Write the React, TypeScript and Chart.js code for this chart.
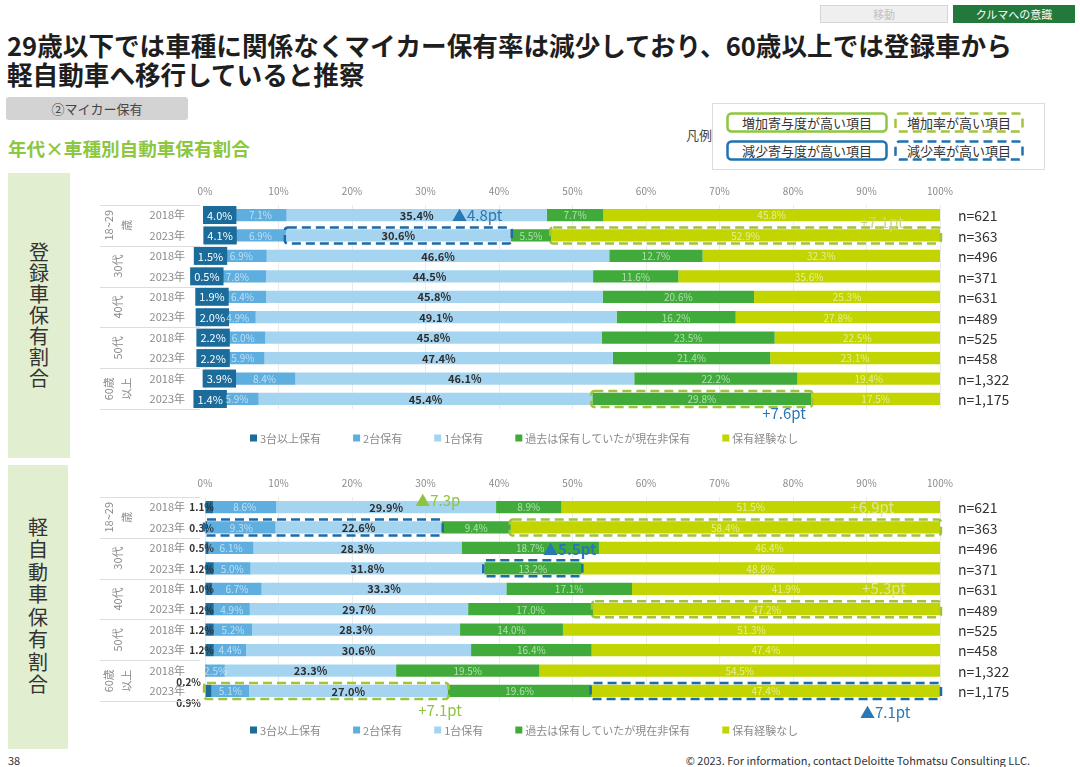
import React, { useEffect, useRef } from "react";
import { Chart, registerables } from "chart.js";

Chart.register(...registerables);

const FONT = '"Noto Sans CJK JP", "Noto Sans", sans-serif';

// ---- categories / labels ----
const ageGroupLines: string[][] = [["18~29", "歳"], ["30代"], ["40代"], ["50代"], ["60歳", "以上"]];
const rowLabels = ["2018年", "2023年", "2018年", "2023年", "2018年", "2023年", "2018年", "2023年", "2018年", "2023年"];
const sampleSizes = ["n=621", "n=363", "n=496", "n=371", "n=631", "n=489", "n=525", "n=458", "n=1,322", "n=1,175"];
const seriesNames = ["3台以上保有", "2台保有", "1台保有", "過去は保有していたが現在非保有", "保有経験なし"];
const seriesColors = ["#1b6b9b", "#5eaee0", "#a5d4f0", "#40ab3a", "#c3d500"];

// ---- 登録車 (registered cars) ----
const regThreePlus = [4.0, 4.1, 1.5, 0.5, 1.9, 2.0, 2.2, 2.2, 3.9, 1.4];
const regTwo = [7.1, 6.9, 6.9, 7.8, 6.4, 4.9, 6.0, 5.9, 8.4, 5.9];
const regOne = [35.4, 30.6, 46.6, 44.5, 45.8, 49.1, 45.8, 47.4, 46.1, 45.4];
const regPast = [7.7, 5.5, 12.7, 11.6, 20.6, 16.2, 23.5, 21.4, 22.2, 29.8];
const regNever = [45.8, 52.9, 32.3, 35.6, 25.3, 27.8, 22.5, 23.1, 19.4, 17.5];

// ---- 軽自動車 (kei cars) ----
const keiThreePlus = [1.1, 0.3, 0.5, 1.2, 1.0, 1.2, 1.2, 1.2, 0.2, 0.9];
const keiTwo = [8.6, 9.3, 6.1, 5.0, 6.7, 4.9, 5.2, 4.4, 2.5, 5.1];
const keiOne = [29.9, 22.6, 28.3, 31.8, 33.3, 29.7, 28.3, 30.6, 23.3, 27.0];
const keiPast = [8.9, 9.4, 18.7, 13.2, 17.1, 17.0, 14.0, 16.4, 19.5, 19.6];
const keiNever = [51.5, 58.4, 46.4, 48.8, 41.9, 47.2, 51.3, 47.4, 54.5, 47.4];

const BLUE = "#1c6aa6";
const LIME = "#a2c23a";
const LIME_TEXT = "#dde5a0";
const GREEN_TEXT = "#8cc43f";

type Highlight = { row: number; from: number; to: number; color: string };
type Note = { text: string; row: number; at: number; dy: number; color: string; bold?: boolean };

const regHighlights: Highlight[] = [
  { row: 1, from: 2, to: 2, color: BLUE },
  { row: 1, from: 4, to: 4, color: LIME },
  { row: 9, from: 3, to: 3, color: LIME },
];
const regNotes: Note[] = [
  { text: "▲4.8pt", row: 0, at: 33.6, dy: 0, color: "#2a78b3" },
  { text: "+7.1pt", row: 0, at: 89.1, dy: 7, color: "#cbd77e" },
  { text: "+7.6pt", row: 9, at: 75.8, dy: 14, color: "#2a78b3" },
];
const keiHighlights: Highlight[] = [
  { row: 1, from: 0, to: 2, color: BLUE },
  { row: 1, from: 4, to: 4, color: LIME },
  { row: 3, from: 3, to: 3, color: BLUE },
  { row: 5, from: 4, to: 4, color: LIME },
  { row: 9, from: 0, to: 2, color: LIME },
  { row: 9, from: 4, to: 4, color: BLUE },
];
const keiNotes: Note[] = [
  { text: "▲7.3p", row: 0, at: 28.6, dy: -7, color: GREEN_TEXT },
  { text: "+6.9pt", row: 0, at: 87.8, dy: 0, color: LIME_TEXT },
  { text: "▲5.5pt", row: 2, at: 46.0, dy: 1, color: "#2a78b3", bold: true },
  { text: "+5.3pt", row: 4, at: 89.4, dy: 0, color: LIME_TEXT },
  { text: "+7.1pt", row: 9, at: 29.0, dy: 19, color: GREEN_TEXT },
  { text: "▲7.1pt", row: 9, at: 89.1, dy: 21, color: "#2a78b3" },
];

type ChartProps = {
  top: number;
  series: number[][];
  highlights: Highlight[];
  notes: Note[];
  boxedFirst: boolean;
  outsideRows: number[];
};

function StackChart({ top, series, highlights, notes, boxedFirst, outsideRows }: ChartProps) {
  const ref = useRef<HTMLCanvasElement>(null);
  useEffect(() => {
    const canvas = ref.current;
    if (!canvas) return;

    const overlay = {
      id: "overlay",
      afterDatasetsDraw(chart: any) {
        const ctx = chart.ctx as CanvasRenderingContext2D;
        const xs = chart.scales.x;
        const ys = chart.scales.y;
        const px = (v: number) => xs.getPixelForValue(v);
        ctx.save();
        for (let r = 0; r < rowLabels.length; r++) {
          const yc = ys.getPixelForValue(r);
          let cum = 0;
          series.forEach((vals, s) => {
            const v = vals[r];
            const x0 = px(cum);
            const x1 = px(cum + v);
            cum += v;
            const text = v.toFixed(1) + "%";
            const xc = (x0 + x1) / 2;
            ctx.textBaseline = "middle";
            if (s === 0) {
              if (boxedFirst) {
                ctx.font = `11px ${FONT}`;
                const w = ctx.measureText(text).width + 8;
                ctx.fillStyle = seriesColors[0];
                ctx.fillRect(xc - w / 2, yc - 9, w, 18);
                ctx.fillStyle = "#ffffff";
                ctx.textAlign = "center";
                ctx.fillText(text, xc, yc + 0.5);
              } else {
                ctx.font = `bold 10px ${FONT}`;
                ctx.fillStyle = "#333333";
                ctx.textAlign = "right";
                if (outsideRows.includes(r)) ctx.fillText(text, px(0) - 4, yc + 12);
                else ctx.fillText(text, px(0) + 9, yc + 0.5);
              }
            } else if (s === 2) {
              ctx.font = `bold 11px ${FONT}`;
              ctx.fillStyle = "#2e2e2e";
              ctx.textAlign = "center";
              ctx.fillText(text, xc, yc + 0.5);
            } else {
              ctx.font = `10px ${FONT}`;
              ctx.fillStyle = "rgba(255,255,255,0.6)";
              ctx.textAlign = "center";
              ctx.fillText(text, xc, yc + 0.5);
            }
          });
        }
        // highlight boxes
        highlights.forEach((h) => {
          let start = 0;
          for (let s = 0; s < h.from; s++) start += series[s][h.row];
          let end = start;
          for (let s = h.from; s <= h.to; s++) end += series[s][h.row];
          const x0 = px(start);
          const x1 = px(end);
          const yc = ys.getPixelForValue(h.row);
          ctx.strokeStyle = h.color;
          ctx.lineWidth = 2.5;
          ctx.setLineDash([9, 5]);
          ctx.beginPath();
          (ctx as any).roundRect(x0 - 1, yc - 8, x1 - x0 + 2, 16, 3);
          ctx.stroke();
        });
        ctx.setLineDash([]);
        // notes
        notes.forEach((n) => {
          const yc = ys.getPixelForValue(n.row) + n.dy;
          ctx.font = `${n.bold ? "bold " : ""}15px ${FONT}`;
          ctx.fillStyle = n.color;
          ctx.textAlign = "left";
          ctx.textBaseline = "middle";
          ctx.fillText(n.text, px(n.at), yc);
        });
        ctx.restore();
      },
      afterDraw(chart: any) {
        const ctx = chart.ctx as CanvasRenderingContext2D;
        const ys = chart.scales.y;
        const area = chart.chartArea;
        const step = ys.getPixelForValue(1) - ys.getPixelForValue(0);
        ctx.save();
        // group separators and labels
        ctx.strokeStyle = "#dddddd";
        ctx.lineWidth = 1;
        for (let g = 0; g <= ageGroupLines.length; g++) {
          const y = Math.round(ys.getPixelForValue(g * 2) - step / 2) + 0.5;
          ctx.beginPath();
          ctx.moveTo(30, y);
          ctx.lineTo(area.left - 5, y);
          ctx.stroke();
        }
        ctx.fillStyle = "#8a8a8a";
        ctx.font = `11px ${FONT}`;
        ctx.textAlign = "center";
        ctx.textBaseline = "middle";
        ageGroupLines.forEach((lines, g) => {
          const yc = (ys.getPixelForValue(g * 2) + ys.getPixelForValue(g * 2 + 1)) / 2;
          ctx.save();
          ctx.translate(48, yc);
          ctx.rotate(-Math.PI / 2);
          const offs = lines.length === 1 ? [0] : [-9, 9];
          lines.forEach((t, i) => ctx.fillText(t, 0, offs[i]));
          ctx.restore();
        });
        // sample sizes
        ctx.fillStyle = "#333333";
        ctx.font = `14px ${FONT}`;
        ctx.textAlign = "left";
        sampleSizes.forEach((t, r) => {
          ctx.fillText(t, area.right + 18, ys.getPixelForValue(r) + 1);
        });
        // legend
        let lx = 180;
        const ly = 263;
        ctx.font = `11px ${FONT}`;
        seriesNames.forEach((name, i) => {
          ctx.fillStyle = seriesColors[i];
          ctx.fillRect(lx, ly - 3.5, 7, 7);
          ctx.fillStyle = "#8a8a8a";
          ctx.textAlign = "left";
          ctx.fillText(name, lx + 10, ly + 0.5);
          lx += 10 + ctx.measureText(name).width + 32;
        });
        ctx.restore();
      },
    };

    const chart = new Chart(canvas, {
      type: "bar",
      data: {
        labels: rowLabels,
        datasets: series.map((d, i) => ({
          label: seriesNames[i],
          data: d,
          backgroundColor: seriesColors[i],
          borderWidth: 0,
          barPercentage: 0.6,
          categoryPercentage: 1,
        })),
      },
      options: {
        indexAxis: "y",
        responsive: false,
        animation: false,
        events: [],
        layout: { padding: { left: 0, right: 140, top: 0, bottom: 50.8 } },
        plugins: { legend: { display: false }, tooltip: { enabled: false } },
        scales: {
          x: {
            stacked: true,
            min: 0,
            max: 100,
            position: "top",
            ticks: {
              stepSize: 10,
              callback: (v: any) => v + "%",
              color: "#8a8a8a",
              font: { size: 10, family: FONT },
              padding: 8,
            },
            grid: { color: "#ebebeb", drawTicks: false },
            border: { display: false },
            afterFit: (s: any) => {
              s.height = 29.8;
            },
          },
          y: {
            stacked: true,
            ticks: { color: "#8a8a8a", font: { size: 11, family: FONT }, padding: 12 },
            grid: { display: false },
            border: { display: false },
            afterFit: (s: any) => {
              s.width = 135;
            },
          },
        },
      } as any,
      plugins: [overlay],
    });
    return () => chart.destroy();
  }, []);
  return (
    <canvas
      ref={ref}
      width={1010}
      height={285}
      style={{ position: "absolute", left: 70, top, width: 1010, height: 285 }}
    />
  );
}

function DashedBox({ left, top, width, height, color, dashed, text }: any) {
  return (
    <div style={{ position: "absolute", left, top, width, height }}>
      <svg width={width} height={height} style={{ position: "absolute", left: 0, top: 0 }}>
        <rect
          x={1.5}
          y={1.5}
          width={width - 3}
          height={height - 3}
          rx={4}
          fill="none"
          stroke={color}
          strokeWidth={2.5}
          strokeDasharray={dashed ? "9 5" : undefined}
        />
      </svg>
      <div
        style={{
          position: "absolute",
          left: 0,
          top: 0,
          width,
          height,
          lineHeight: `${height}px`,
          textAlign: "center",
          fontSize: 13,
          color: "#333",
        }}
      >
        {text}
      </div>
    </div>
  );
}

export default function App() {
  const regSeries = [regThreePlus, regTwo, regOne, regPast, regNever];
  const keiSeries = [keiThreePlus, keiTwo, keiOne, keiPast, keiNever];
  return (
    <div
      style={{
        position: "absolute",
        left: 0,
        top: 0,
        width: 1080,
        height: 767,
        background: "#ffffff",
        overflow: "hidden",
        fontFamily: FONT,
        color: "#222",
      }}
    >
      {/* tabs */}
      <div
        style={{
          position: "absolute",
          left: 820,
          top: 5,
          width: 128,
          height: 18,
          background: "#efefef",
          border: "1px solid #d6d6d6",
          boxSizing: "border-box",
          color: "#c2c2c2",
          fontSize: 11,
          lineHeight: "16px",
          textAlign: "center",
        }}
      >
        移動
      </div>
      <div
        style={{
          position: "absolute",
          left: 953,
          top: 5,
          width: 122,
          height: 18,
          background: "#23793b",
          color: "#ffffff",
          fontSize: 11,
          lineHeight: "18px",
          textAlign: "center",
        }}
      >
        クルマへの意識
      </div>
      {/* title */}
      <div
        style={{
          position: "absolute",
          left: 7,
          top: 30,
          fontSize: 25.6,
          fontWeight: 700,
          lineHeight: "29px",
          whiteSpace: "nowrap",
          color: "#1e1e1e",
        }}
      >
        <div>29歳以下では車種に関係なくマイカー保有率は減少しており、60歳以上では登録車から</div>
        <div>軽自動車へ移行していると推察</div>
      </div>
      {/* section tag */}
      <div
        style={{
          position: "absolute",
          left: 6,
          top: 97,
          width: 182,
          height: 23,
          background: "#d3d3d3",
          borderRadius: 3,
          fontSize: 13,
          lineHeight: "23px",
          textAlign: "center",
          color: "#444",
        }}
      >
        ②マイカー保有
      </div>
      {/* subtitle */}
      <div
        style={{
          position: "absolute",
          left: 8,
          top: 138,
          fontSize: 18.6,
          fontWeight: 700,
          lineHeight: "20px",
          color: "#8dc63f",
          whiteSpace: "nowrap",
        }}
      >
        年代×車種別自動車保有割合
      </div>
      {/* legend box */}
      <div
        style={{
          position: "absolute",
          left: 686,
          top: 127,
          fontSize: 13,
          lineHeight: "16px",
          color: "#444",
        }}
      >
        凡例
      </div>
      <div
        style={{
          position: "absolute",
          left: 712,
          top: 103,
          width: 333,
          height: 67,
          border: "1px solid #dddddd",
          boxSizing: "border-box",
        }}
      />
      <DashedBox left={726} top={112} width={162} height={21} color="#8dc63f" dashed={false} text="増加寄与度が高い項目" />
      <DashedBox left={894} top={112} width={130} height={21} color="#a5c43a" dashed={true} text="増加率が高い項目" />
      <DashedBox left={726} top={140} width={162} height={21} color="#1f72b0" dashed={false} text="減少寄与度が高い項目" />
      <DashedBox left={894} top={140} width={130} height={21} color="#1f72b0" dashed={true} text="減少率が高い項目" />
      {/* side panels */}
      <div
        style={{
          position: "absolute",
          left: 8,
          top: 173,
          width: 62,
          height: 285,
          background: "#e2eed0",
          display: "flex",
          alignItems: "center",
          justifyContent: "center",
        }}
      >
        <div style={{ writingMode: "vertical-rl", fontSize: 20, letterSpacing: 1, color: "#333" }}>登録車保有割合</div>
      </div>
      <div
        style={{
          position: "absolute",
          left: 8,
          top: 465,
          width: 60,
          height: 284,
          background: "#e2eed0",
          display: "flex",
          alignItems: "center",
          justifyContent: "center",
        }}
      >
        <div style={{ writingMode: "vertical-rl", fontSize: 20, letterSpacing: 2.5, color: "#333" }}>軽自動車保有割合</div>
      </div>
      <StackChart top={175} series={regSeries} highlights={regHighlights} notes={regNotes} boxedFirst={true} outsideRows={[]} />
      <StackChart top={467} series={keiSeries} highlights={keiHighlights} notes={keiNotes} boxedFirst={false} outsideRows={[8, 9]} />
      {/* footer */}
      <div style={{ position: "absolute", left: 8, top: 753, fontSize: 11, lineHeight: "14px", color: "#333" }}>38</div>
      <div
        style={{
          position: "absolute",
          right: 50,
          top: 753,
          fontSize: 11,
          lineHeight: "14px",
          color: "#333",
          whiteSpace: "nowrap",
        }}
      >
        © 2023. For information, contact Deloitte Tohmatsu Consulting LLC.
      </div>
    </div>
  );
}
